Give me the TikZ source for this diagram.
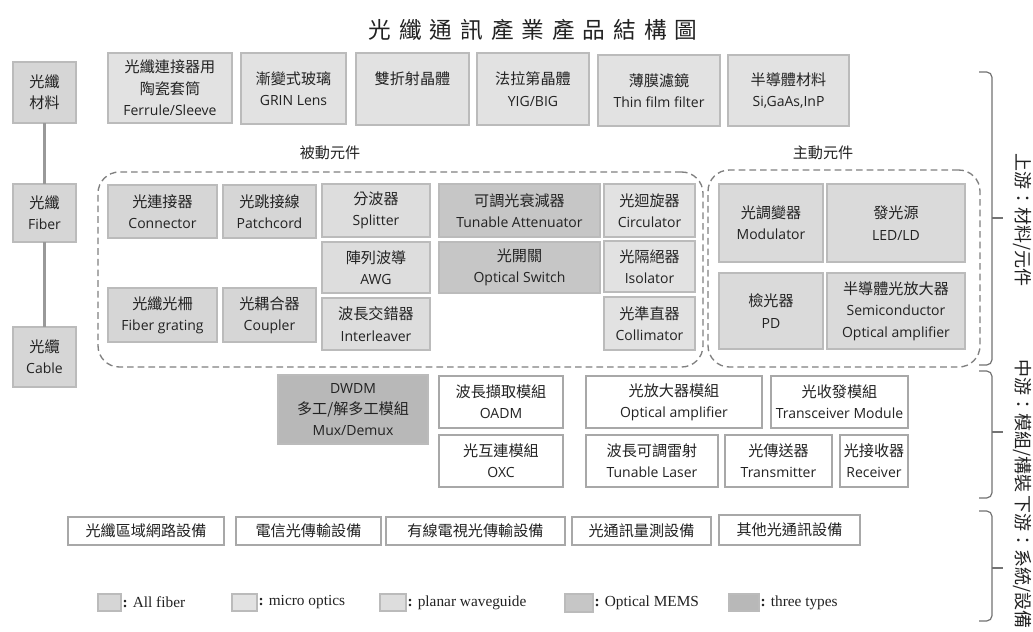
\documentclass[tikz,border=0pt]{standalone}
\usepackage{fontspec}
\setmainfont{Open Sans}
\newfontfamily\cjk[Scale=1.08]{Noto Sans CJK TC}
\newfontfamily\titlef[LetterSpace=35]{Noto Sans CJK TC}
\newfontfamily\lser{Liberation Serif}
\definecolor{cfib}{HTML}{D6D6D6}
\definecolor{cmic}{HTML}{E2E2E2}
\definecolor{cpla}{HTML}{DDDDDD}
\definecolor{cmem}{HTML}{C6C6C6}
\definecolor{cthr}{HTML}{B8B8B8}
\definecolor{cact}{HTML}{DADADA}
\definecolor{bordc}{HTML}{BBBBBB}
\definecolor{wbord}{HTML}{A8A8A8}
\definecolor{dashc}{HTML}{808080}
\definecolor{txt}{HTML}{222222}
\tikzset{
  bx/.style={draw=bordc, line width=0.8pt, align=center, inner sep=0pt, outer sep=0pt,
    font=\fontsize{10.5}{16}\selectfont, text=txt},
  fib/.style={bx, fill=cfib},
  mic/.style={bx, fill=cmic},
  pla/.style={bx, fill=cpla},
  mem/.style={bx, fill=cmem},
  thr/.style={bx, fill=cthr},
  actb/.style={bx, fill=cact},
  wht/.style={bx, fill=white, draw=wbord},
  grp/.style={draw=dashc, line width=1pt, dash pattern=on 5pt off 3pt, rounded corners=16pt, inner sep=0pt},
  conn/.style={draw=black!40, line width=1.6pt},
  brk/.style={draw=black!55, line width=0.9pt, rounded corners=4pt},
  lab/.style={font=\fontsize{10.5}{14}\selectfont, text=txt},
  vlab/.style={font=\fontsize{12.5}{14}\selectfont, text=txt, rotate=-90},
  lgt/.style={font=\lser\fontsize{11.5}{13}\selectfont, text=txt, anchor=west, inner sep=1pt},
}
\newcommand\bx[7]{%
  \pgfmathsetmacro\bw{(#4-#2)*0.75}%
  \pgfmathsetmacro\bh{(#5-#3)*0.75}%
  \node[#6, minimum width=\bw pt, minimum height=\bh pt] (#1) at ({(#2+#4)/2},{(#3+#5)/2}) {#7};}
\begin{document}
\begin{tikzpicture}[x=0.75pt, y=-0.75pt]
\fill[white] (0,0) rectangle (1033,632);
\useasboundingbox (0,0) rectangle (1033,632);

% title
\node[text=txt, font=\fontsize{17}{20}\selectfont] (title) at (533,30) {\titlef 光纖通訊產業產品結構圖};

% left column
\bx{m1}{13}{62}{76}{123}{fib}{{\cjk 光纖}\\{\cjk 材料}}
\bx{m2}{13}{184}{76}{242}{fib}{{\cjk 光纖}\\Fiber}
\bx{m3}{13}{327}{76}{387}{fib}{{\cjk 光纜}\\Cable}
\draw[conn] (m1.south) -- (m2.north);
\draw[conn] (m2.south) -- (m3.north);

% top row materials
\bx{t1}{108}{53}{232}{123}{mic}{{\cjk 光纖連接器用}\\{\cjk 陶瓷套筒}\\Ferrule/Sleeve}
\bx{t2}{241}{53}{346}{124}{mic}{{\cjk 漸變式玻璃}\\GRIN Lens}
\bx{t3}{356}{53}{469}{125}{mic}{{\cjk 雙折射晶體}\\\mbox{}}
\bx{t4}{477}{53}{589}{125}{mic}{{\cjk 法拉第晶體}\\YIG/BIG}
\bx{t5}{598}{55}{720}{126}{mic}{{\cjk 薄膜濾鏡}\\Thin film filter}
\bx{t6}{728}{55}{849}{126}{mic}{{\cjk 半導體材料}\\Si,GaAs,InP}

% group labels
\node[lab] (lpas) at (330,153) {\cjk 被動元件};
\node[lab] (lact) at (823,153) {\cjk 主動元件};

% passive group
\bx{pas}{98}{172}{703}{367}{grp}{}
\bx{p1}{108}{185}{217}{238}{fib}{{\cjk 光連接器}\\Connector}
\bx{p2}{223}{185}{316}{238}{fib}{{\cjk 光跳接線}\\Patchcord}
\bx{p3}{322}{184}{430}{237}{pla}{{\cjk 分波器}\\Splitter}
\bx{p4}{439}{184}{600}{237}{mem}{{\cjk 可調光衰減器}\\Tunable Attenuator}
\bx{p5}{604}{184}{695}{237}{mic}{{\cjk 光迴旋器}\\Circulator}
\bx{p6}{322}{242}{430}{293}{pla}{{\cjk 陣列波導}\\AWG}
\bx{p7}{439}{242}{600}{293}{mem}{{\cjk 光開關}\\Optical Switch}
\bx{p8}{604}{241}{695}{292}{mic}{{\cjk 光隔絕器}\\Isolator}
\bx{p9}{108}{288}{217}{342}{fib}{{\cjk 光纖光柵}\\Fiber grating}
\bx{p10}{223}{288}{316}{342}{fib}{{\cjk 光耦合器}\\Coupler}
\bx{p11}{322}{298}{430}{350}{pla}{{\cjk 波長交錯器}\\Interleaver}
\bx{p12}{604}{297}{695}{350}{mic}{{\cjk 光準直器}\\Collimator}

% active group
\bx{act}{708}{170}{980}{367}{grp}{}
\bx{a1}{719}{184}{823}{262}{actb}{{\cjk 光調變器}\\Modulator}
\bx{a2}{827}{184}{965}{262}{actb}{{\cjk 發光源}\\LED/LD}
\bx{a3}{719}{273}{823}{349}{actb}{{\cjk 檢光器}\\PD}
\bx{a4}{827}{273}{965}{349}{actb}{{\cjk 半導體光放大器}\\Semiconductor\\Optical amplifier}

% modules
\bx{d1}{278}{375}{428}{444}{thr}{DWDM\\{\cjk 多工/解多工模組}\\Mux/Demux}
\bx{d2}{439}{376}{563}{428}{wht}{{\cjk 波長擷取模組}\\OADM}
\bx{d3}{586}{376}{762}{428}{wht}{{\cjk 光放大器模組}\\Optical amplifier}
\bx{d4}{771}{376}{908}{428}{wht}{{\cjk 光收發模組}\\Transceiver Module}
\bx{d5}{439}{435}{563}{487}{wht}{{\cjk 光互連模組}\\OXC}
\bx{d6}{586}{435}{718}{487}{wht}{{\cjk 波長可調雷射}\\Tunable Laser}
\bx{d7}{725}{435}{832}{487}{wht}{{\cjk 光傳送器}\\Transmitter}
\bx{d8}{840}{435}{908}{487}{wht}{{\cjk 光接收器}\\Receiver}

% systems
\bx{b1}{68}{517}{224}{545}{wht}{\cjk 光纖區域網路設備}
\bx{b2}{236}{517}{381}{545}{wht}{\cjk 電信光傳輸設備}
\bx{b3}{386}{517}{565}{545}{wht}{\cjk 有線電視光傳輸設備}
\bx{b4}{572}{517}{711}{545}{wht}{\cjk 光通訊量測設備}
\bx{b5}{719}{515}{860}{545}{wht}{\cjk 其他光通訊設備}

% legend
\bx{g1}{98}{594}{121}{611}{fib}{}
\bx{g2}{232}{594}{257}{611}{mic}{}
\bx{g3}{380}{594}{406}{611}{pla}{}
\bx{g4}{565}{594}{593}{612}{mem}{}
\bx{g5}{729}{594}{759}{611}{thr}{}
\node[lgt] (g1t) at (g1.east) {\textbf{:} All fiber};
\node[lgt] (g2t) at (g2.east) {\textbf{:} micro optics};
\node[lgt] (g3t) at (g3.east) {\textbf{:} planar waveguide};
\node[lgt] (g4t) at (g4.east) {\textbf{:} Optical MEMS};
\node[lgt] (g5t) at (g5.east) {\textbf{:} three types};

% brackets
\coordinate (k1a) at (979,72);  \coordinate (k1b) at (979,365); \coordinate (k1m) at (992,218); \coordinate (k1t) at (1003,218);
\coordinate (k2a) at (979,371); \coordinate (k2b) at (979,498); \coordinate (k2m) at (992,432); \coordinate (k2t) at (1003,432);
\coordinate (k3a) at (979,511); \coordinate (k3b) at (979,621); \coordinate (k3m) at (992,568); \coordinate (k3t) at (1003,568);
\draw[brk] (k1a) -| (k1m) |- (k1b);  \draw[brk] (k1m) -- (k1t);
\draw[brk] (k2a) -| (k2m) |- (k2b);  \draw[brk] (k2m) -- (k2t);
\draw[brk] (k3a) -| (k3m) |- (k3b);  \draw[brk] (k3m) -- (k3t);
\node[vlab] (v1) at (1022,220) {\cjk 上游：材料/元件};
\node[vlab] (v2) at (1022,426) {\cjk 中游：模組/構裝};
\node[vlab] (v3) at (1022,562) {\cjk 下游：系統/設備};
\end{tikzpicture}
\end{document}
